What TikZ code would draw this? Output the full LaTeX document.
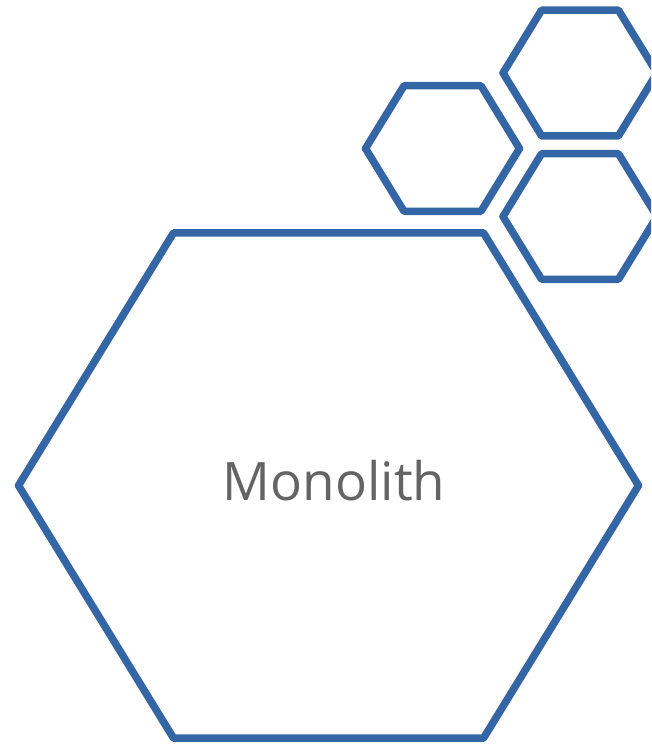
\documentclass[tikz,border=0pt]{standalone}
\usepackage{fontspec}
\setmainfont{Open Sans}
\usepackage{tikz}
\usetikzlibrary{positioning}
\definecolor{azulhex}{RGB}{52,102,166}
\definecolor{gristexto}{RGB}{100,100,100}
% hexagono achatado: centro #2, radio horizontal #3
\newcommand{\hexa}[3][]{%
  \draw[borde,#1] (#2) ++(-#3,0) -- ++(0.5*#3,-0.815*#3) -- ++(#3,0)
    -- ++(0.5*#3,0.815*#3) -- ++(-0.5*#3,0.815*#3) -- ++(-#3,0) -- cycle;}

\begin{document}
\begin{tikzpicture}[x=1pt, y=-1pt,
  borde/.style={draw=azulhex, line width=7.5pt, line join=round},
  titulo/.style={text=gristexto, font=\fontsize{53}{58}\selectfont, inner sep=0pt}]
  \clip (0,0) rectangle (651,744);
  \coordinate (grande) at (328.5,485.5);
  \coordinate (medio) at (442.5,148.5);
  \coordinate (arriba) at (580,73);
  \coordinate (abajo) at (580,216.5);
  \hexa{grande}{310}
  \hexa{medio}{77}
  \hexa{arriba}{77}
  \hexa{abajo}{77}
  \node[titulo] (mono) at (334,481) {Monolith};
\end{tikzpicture}
\end{document}
